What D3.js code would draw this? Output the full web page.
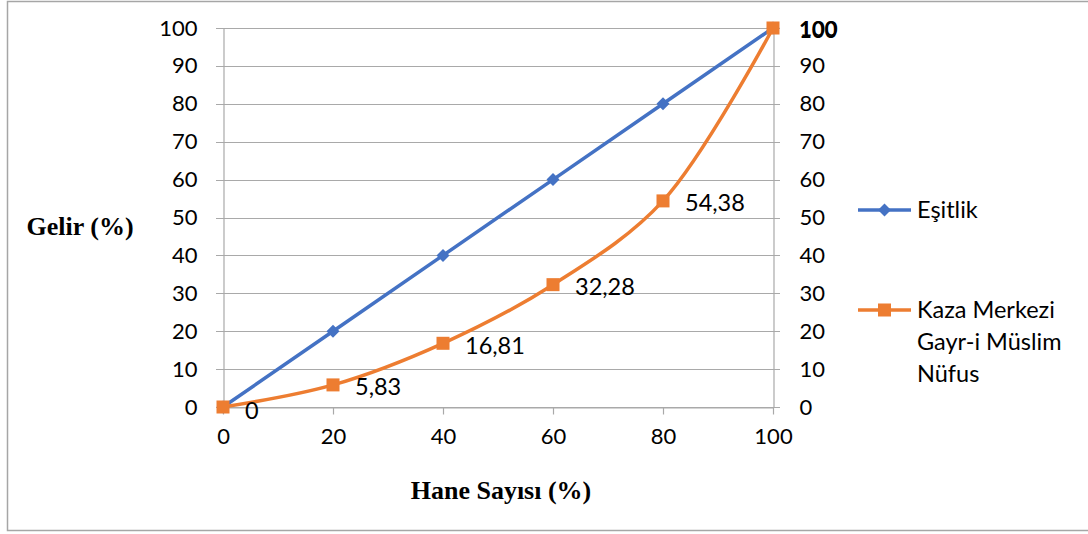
<!DOCTYPE html>
<html><head><meta charset="utf-8">
<script src="https://cdn.jsdelivr.net/npm/d3@7"></script>
<style>body{margin:0;background:#fff}svg{display:block}</style>
</head><body>
<svg id="c" width="1088" height="534"></svg>
<script>
const xValues = [0, 20, 40, 60, 80, 100];
const equality = [0, 20, 40, 60, 80, 100];
const nonMuslim = [0, 5.83, 16.81, 32.28, 54.38, 100];
const nonMuslimLabels = ["0", "5,83", "16,81", "32,28", "54,38", "100"];
const yTicks = [0,10,20,30,40,50,60,70,80,90,100];
const xTicks = [0,20,40,60,80,100];
const seriesNames = ["Eşitlik", ["Kaza Merkezi", "Gayr-i Müslim", "Nüfus"]];

const svg = d3.select("#c");
const font = "Lato, 'Open Sans', sans-serif";
const serif = "'Liberation Serif', 'Times New Roman', serif";
const gridColor = "#a9a9a9";
const blue = "#4472C4", orange = "#ED7D31";

svg.append("rect").attr("x",7.5).attr("y",1.5).attr("width",1090).attr("height",529)
  .attr("fill","#fff").attr("stroke","#a6a6a6").attr("stroke-width",1.5);

const x = d3.scaleLinear().domain([0,100]).range([223,773]);
const y = d3.scaleLinear().domain([0,100]).range([407,28]);

// gridlines
svg.append("g").selectAll("line").data(yTicks).join("line")
  .attr("x1",216).attr("x2",780).attr("y1",d=>Math.round(y(d))+0.5).attr("y2",d=>Math.round(y(d))+0.5)
  .attr("stroke",gridColor).attr("stroke-width",1.2);

// left axis
const gl = svg.append("g").attr("transform","translate(223.5,0)")
  .call(d3.axisLeft(y).tickValues(yTicks).tickSize(0).tickPadding(26));
gl.select(".domain").attr("stroke",gridColor).attr("stroke-width",1.2);
gl.selectAll("text").attr("font-family",font).attr("font-size",22).attr("fill","#000");

// right axis
const gr = svg.append("g").attr("transform","translate(773.5,0)")
  .call(d3.axisRight(y).tickValues(yTicks).tickSize(0).tickPadding(26));
gr.select(".domain").attr("stroke",gridColor).attr("stroke-width",1.2);
gr.selectAll("text").attr("font-family",font).attr("font-size",22).attr("fill","#000");

// bottom axis
const gb = svg.append("g").attr("transform","translate(0,407.5)")
  .call(d3.axisBottom(x).tickValues(xTicks).tickSize(7).tickPadding(14).tickSizeOuter(0));
gb.select(".domain").attr("stroke",gridColor).attr("stroke-width",1.2);
gb.selectAll("line").attr("stroke",gridColor).attr("stroke-width",1.2);
gb.selectAll("text").attr("font-family",font).attr("font-size",22).attr("fill","#000");

// axis titles
svg.append("text").attr("x",80).attr("y",235).attr("text-anchor","middle")
  .attr("font-family",serif).attr("font-weight","bold").attr("font-size",26)
  .text("Gelir (%)");
svg.append("text").attr("x",501).attr("y",499).attr("text-anchor","middle")
  .attr("font-family",serif).attr("font-weight","bold").attr("font-size",26)
  .text("Hane Sayısı (%)");

// lines
const eqData = xValues.map((v,i)=>[v,equality[i]]);
const nmData = xValues.map((v,i)=>[v,nonMuslim[i]]);
svg.append("path").datum(eqData)
  .attr("d", d3.line().x(d=>x(d[0])).y(d=>y(d[1])))
  .attr("fill","none").attr("stroke",blue).attr("stroke-width",3.5).attr("stroke-linejoin","round");
svg.append("path").datum(nmData)
  .attr("d", d3.line().x(d=>x(d[0])).y(d=>y(d[1])).curve(d3.curveCatmullRom.alpha(0.5)))
  .attr("fill","none").attr("stroke",orange).attr("stroke-width",3.5).attr("stroke-linejoin","round");

// markers
const diamond = (cx,cy,s)=>`M${cx},${cy-s}L${cx+s},${cy}L${cx},${cy+s}L${cx-s},${cy}Z`;
svg.append("g").selectAll("path").data(eqData).join("path")
  .attr("d",d=>diamond(x(d[0]),y(d[1]),6.5)).attr("fill",blue);
svg.append("g").selectAll("rect").data(nmData).join("rect")
  .attr("x",d=>x(d[0])-6.5).attr("y",d=>y(d[1])-6.5).attr("width",13).attr("height",13).attr("fill",orange);

// data labels
svg.append("g").selectAll("text").data(nmData).join("text")
  .attr("x",(d,i)=>x(d[0])+ (i===5?26:22)).attr("y",(d,i)=>y(d[1])+ (i===0?4:2))
  .attr("dy","0.35em").attr("font-family",font).attr("font-size",(d,i)=>i===5?22:23.5).attr("fill","#000")
  .attr("font-weight",(d,i)=>i===5?"bold":"normal")
  .text((d,i)=>nonMuslimLabels[i]);

// legend
const lg = svg.append("g");
lg.append("line").attr("x1",858).attr("x2",911).attr("y1",210).attr("y2",210).attr("stroke",blue).attr("stroke-width",3.5);
lg.append("path").attr("d",diamond(884.5,210,6.5)).attr("fill",blue);
lg.append("text").attr("x",917).attr("y",210).attr("dy","0.35em").attr("font-family",font).attr("font-size",23.5).text(seriesNames[0]);
lg.append("line").attr("x1",858).attr("x2",911).attr("y1",310).attr("y2",310).attr("stroke",orange).attr("stroke-width",3.5);
lg.append("rect").attr("x",878).attr("y",303.5).attr("width",13).attr("height",13).attr("fill",orange);
seriesNames[1].forEach((t,i)=>{
  lg.append("text").attr("x",917).attr("y",310+i*32).attr("dy","0.35em").attr("font-family",font).attr("font-size",23.5).text(t);
});
</script>
</body></html>
